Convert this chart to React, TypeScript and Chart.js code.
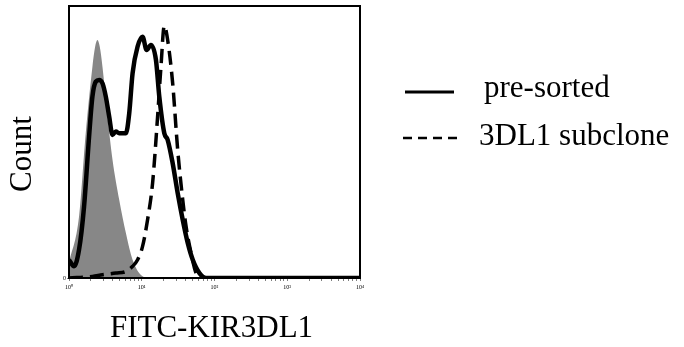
import React, { useEffect, useRef } from "react";
import { Chart, registerables } from "chart.js";

Chart.register(...registerables);

// x positions are in decades of fluorescence (log10), y is relative count
const isotypeX = [0, 0.138, 0.23, 0.322, 0.359, 0.391, 0.423, 0.46, 0.529, 0.598, 0.69, 0.782, 0.874, 1.011, 1.103, 4];
const isotypeY = [5.5, 22.6, 53.2, 77.7, 85, 87.5, 85, 77.7, 59.4, 43.5, 28.8, 16.5, 6.7, 0.6, 0, 0];

const preSortedX = [0, 0.069, 0.138, 0.207, 0.276, 0.322, 0.368, 0.414, 0.46, 0.506, 0.552, 0.598, 0.644, 0.69, 0.782, 0.828, 0.874, 0.943, 1.011, 1.067, 1.126, 1.195, 1.241, 1.31, 1.356, 1.425, 1.494, 1.563, 1.632, 1.701, 1.793, 1.885, 4];
const preSortedY = [6.7, 4.3, 10.4, 26.3, 52.0, 66.7, 72.2, 72.8, 71.6, 66.7, 59.4, 52.6, 53.9, 53.2, 53.2, 60.6, 75.3, 85.1, 88.7, 83.8, 85.7, 80.2, 66.7, 53.2, 50.8, 42.2, 31.2, 21.4, 12.9, 6.7, 1.8, 0, 0];

const subcloneX = [0, 0.322, 0.46, 0.644, 0.782, 0.874, 0.943, 1.011, 1.08, 1.149, 1.218, 1.264, 1.31, 1.356, 1.425, 1.494, 1.563, 1.609, 1.678, 1.747, 1.839, 4];
const subcloneY = [0, 0.6, 1.2, 1.8, 2.4, 4.3, 6.7, 11.6, 21.4, 34.9, 59.4, 77.7, 92.7, 87.5, 71.6, 47.1, 28.8, 19.0, 9.2, 1.8, 0, 0];

const majorDecades = [0, 1, 2, 3, 4];
const decadeLabels = ["10\u2070", "10\u00b9", "10\u00b2", "10\u00b3", "10\u2074"];
const minorSteps = [2, 3, 4, 5, 6, 7, 8, 9];

const xTitle = "FITC-KIR3DL1";
const yTitle = "Count";
const legendLabels = ["pre-sorted", "3DL1 subclone"];

const SERIF = '"Liberation Serif", "Times New Roman", serif';

const toPoints = (xs: number[], ys: number[]) => xs.map((x, i) => ({ x, y: ys[i] }));

const decorPlugin = {
  id: "decor",
  afterDatasetsDraw(chart: any) {
    const { ctx, chartArea } = chart;
    ctx.save();
    ctx.strokeStyle = "#000";
    ctx.lineWidth = 2;
    ctx.strokeRect(chartArea.left, chartArea.top, chartArea.right - chartArea.left, chartArea.bottom - chartArea.top);
    ctx.restore();
  },
  afterDraw(chart: any) {
    const { ctx } = chart;
    ctx.save();
    ctx.fillStyle = "#000";
    ctx.font = `31px ${SERIF}`;
    ctx.textAlign = "center";
    ctx.textBaseline = "alphabetic";
    ctx.fillText(xTitle, 211.5, 337);
    ctx.save();
    ctx.translate(23, 154);
    ctx.rotate(-Math.PI / 2);
    ctx.textBaseline = "middle";
    ctx.fillText(yTitle, 0, 0);
    ctx.restore();
    ctx.strokeStyle = "#000";
    ctx.lineWidth = 3;
    ctx.beginPath();
    ctx.moveTo(405, 92);
    ctx.lineTo(454, 92);
    ctx.stroke();
    ctx.lineWidth = 2.5;
    ctx.setLineDash([9, 6]);
    ctx.beginPath();
    ctx.moveTo(403, 138);
    ctx.lineTo(458, 138);
    ctx.stroke();
    ctx.setLineDash([]);
    ctx.textAlign = "left";
    ctx.textBaseline = "alphabetic";
    ctx.fillText(legendLabels[0], 484, 97);
    ctx.fillText(legendLabels[1], 479, 145);
    ctx.restore();
  },
};

export default function App() {
  const ref = useRef<HTMLCanvasElement>(null);
  useEffect(() => {
    if (!ref.current) return;
    const chart = new Chart(ref.current, {
      type: "line",
      data: {
        datasets: [
          {
            label: "isotype",
            data: toPoints(isotypeX, isotypeY),
            fill: "origin",
            backgroundColor: "#878787",
            borderColor: "#878787",
            borderWidth: 0,
            pointRadius: 0,
            cubicInterpolationMode: "monotone",
            order: 3,
          },
          {
            label: legendLabels[1],
            data: toPoints(subcloneX, subcloneY),
            fill: false,
            borderColor: "#000",
            borderWidth: 3.5,
            borderDash: [14, 7],
            pointRadius: 0,
            cubicInterpolationMode: "monotone",
            order: 2,
          },
          {
            label: legendLabels[0],
            data: toPoints(preSortedX, preSortedY),
            fill: false,
            borderColor: "#000",
            borderWidth: 4.5,
            pointRadius: 0,
            cubicInterpolationMode: "monotone",
            order: 1,
          },
        ],
      },
      options: {
        animation: false,
        responsive: true,
        maintainAspectRatio: false,
        layout: { padding: { left: 59, right: 324, top: 6, bottom: 55 } },
        plugins: { legend: { display: false }, tooltip: { enabled: false } },
        scales: {
          x: {
            type: "linear",
            min: 0,
            max: 4,
            afterBuildTicks(scale: any) {
              const t: any[] = [];
              majorDecades.forEach((d) => {
                t.push({ value: d });
                if (d < 4) minorSteps.forEach((k) => t.push({ value: d + Math.log10(k) }));
              });
              scale.ticks = t;
            },
            afterFit(scale: any) {
              scale.height = 14;
            },
            ticks: {
              autoSkip: false,
              maxRotation: 0,
              padding: 3,
              color: "#000",
              font: { size: 6, family: SERIF },
              callback(value: any) {
                const i = majorDecades.indexOf(Number(value));
                return i >= 0 ? decadeLabels[i] : "";
              },
            },
            grid: { drawOnChartArea: false, drawTicks: true, tickLength: 3, color: "#000", lineWidth: 0.5 },
            border: { display: false },
          },
          y: {
            type: "linear",
            min: 0,
            max: 100,
            afterBuildTicks(scale: any) {
              scale.ticks = [{ value: 0 }];
            },
            afterFit(scale: any) {
              scale.width = 10;
            },
            ticks: { color: "#000", padding: 1, font: { size: 6, family: SERIF } },
            grid: { drawOnChartArea: false, drawTicks: true, tickLength: 2, color: "#000", lineWidth: 0.5 },
            border: { display: false },
          },
        },
      },
      plugins: [decorPlugin],
    } as any);
    return () => chart.destroy();
  }, []);
  return (
    <div style={{ position: "fixed", left: 0, top: 0, width: 684, height: 347, background: "#fff" }}>
      <canvas ref={ref} />
    </div>
  );
}
